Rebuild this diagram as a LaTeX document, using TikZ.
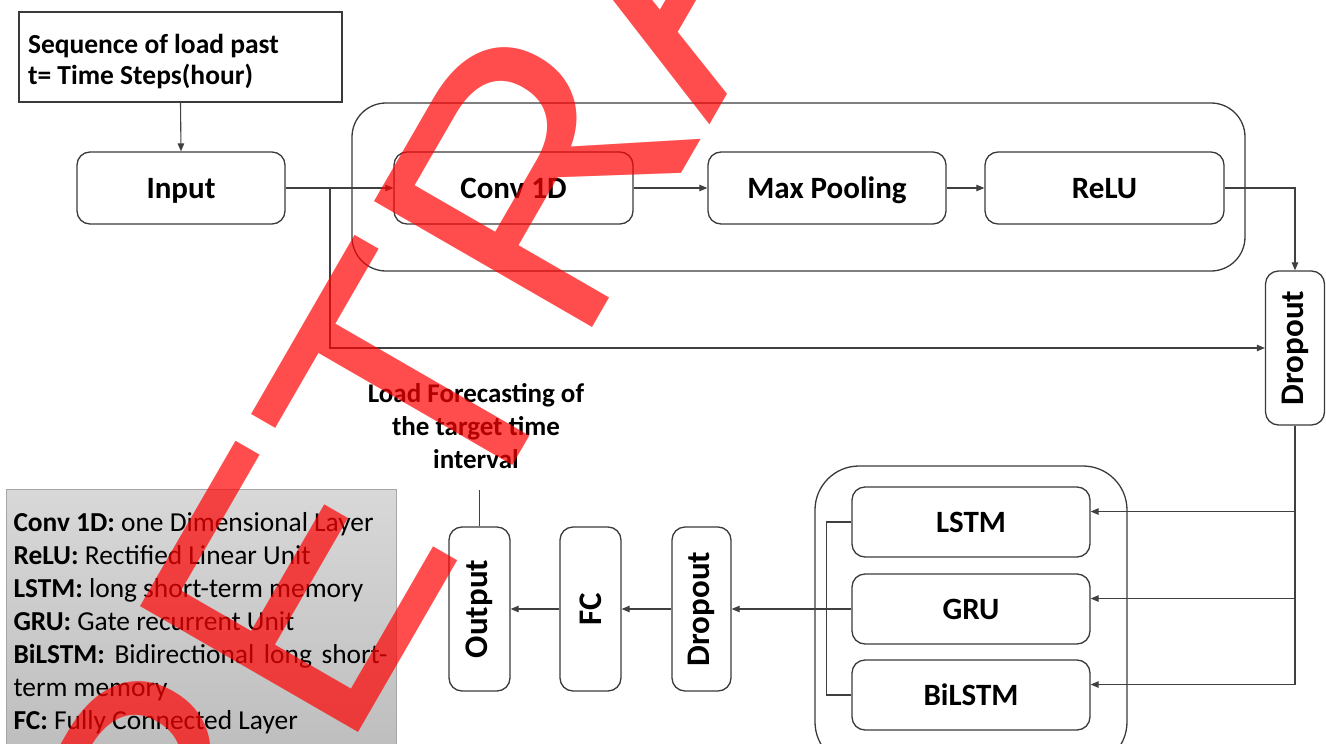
\documentclass[tikz,border=0pt]{standalone}
\usepackage{fontspec}
\setmainfont{Carlito}
\newfontfamily\wmfont{Liberation Sans}
\usepackage{graphicx}
\usetikzlibrary{arrows.meta,positioning,calc}
\definecolor{LineInk}{HTML}{404040}
\definecolor{BoxInk}{HTML}{3A3A3A}
\definecolor{LegTop}{HTML}{D8D8D8}
\definecolor{LegBot}{HTML}{BDBDBD}
\definecolor{LegBord}{HTML}{A6A6A6}
\definecolor{WmRed}{HTML}{FF0000}
\newcommand{\lyrfont}{\fontsize{31pt}{36pt}\selectfont\bfseries}
\newcommand{\vlyrfont}{\fontsize{33pt}{38pt}\selectfont\bfseries}
\newcommand{\seqfont}{\fontsize{27.5pt}{31pt}\selectfont\bfseries}
\newcommand{\fcstfont}{\fontsize{27pt}{33pt}\selectfont\bfseries}
\newcommand{\legfont}{\fontsize{27.4pt}{33pt}\selectfont}
\tikzset{
  every picture/.append style={>=Stealth},
  blk/.style={rectangle, rounded corners=13pt, draw=BoxInk, line width=1.3pt,
              align=center, inner sep=0pt},
  lyr/.style={blk, minimum width=238pt, minimum height=72pt, font=\lyrfont,
              text height=20pt, text depth=0pt},
  vlyr/.style={blk, minimum width=60pt, minimum height=164pt, font=\vlyrfont},
  grp/.style={rectangle, draw=BoxInk, line width=1.3pt, inner sep=0pt},
  flow/.style={-{Triangle[length=8pt,width=6.5pt]}, line width=1.1pt, draw=LineInk},
  link/.style={line width=1.1pt, draw=LineInk},
  wm/.style={font=\wmfont\fontsize{366pt}{366pt}\selectfont, text=WmRed,
             text opacity=0.7, inner sep=0pt},
}

\begin{document}
\begin{tikzpicture}[x=1pt, y=-1pt]
% page = 1326 x 744 px, one px per pt, y running down
\useasboundingbox (0,0) rectangle (1326,744);
\clip (0,0) rectangle (1326,744);

% ======================= input side ==================================
\node[grp, minimum width=323pt, minimum height=90pt, text width=305pt,
      align=flush left, font=\seqfont] (seq) at (180.5,57)
  {\rule{0pt}{28pt}Sequence of load past\\t= Time Steps(hour)};
\node[lyr, minimum width=208pt] (inp) at (181,188) {Input};

% ======================= CNN block ===================================
\node[grp, rounded corners=34pt, minimum width=893pt, minimum height=168pt] (cnn)
  at (798.5,187) {};
\node[lyr, minimum width=239pt] (conv) at (513.5,188) {Conv 1D};
\node[lyr] (pool) at (827,188) {Max Pooling};
\node[lyr, minimum width=239pt] (relu) at (1104.5,188) {ReLU};
\node[vlyr, minimum width=59pt, minimum height=154pt] (dpA) at (1295,348)
  {\rotatebox{90}{Dropout}};

% ======================= recurrent block =============================
\node[grp, rounded corners=44pt, minimum width=312pt, minimum height=300pt] (rnn)
  at (971,616) {};
\node[lyr, minimum height=70pt] (lstm) at (971,522) {LSTM};
\node[lyr, minimum height=70pt] (gru) at (971,609) {GRU};
\node[lyr, minimum height=70pt] (bil) at (971,695) {BiLSTM};

% ======================= output side =================================
\node[vlyr, minimum width=59pt] (dpB) at (701.5,609) {\rotatebox{90}{Dropout}};
\node[vlyr, minimum width=61pt] (fc) at (590.5,609) {\rotatebox{90}{FC}};
\node[vlyr, minimum width=61pt] (outp) at (479.5,609) {\rotatebox{90}{Output}};
\node[align=center, font=\fcstfont, anchor=south, inner xsep=0pt, inner ysep=21pt]
  (fcst) at (476,490) {Load Forecasting of\\the target time\\interval};

% ======================= legend ======================================
\node[rectangle, draw=LegBord, line width=1pt, top color=LegTop, bottom color=LegBot,
      anchor=north west, text width=376pt, inner xsep=7pt, inner ysep=0pt,
      minimum height=268pt, align=flush left, font=\legfont] (leg) at (6,489)
  {\textbf{Conv 1D:} one Dimensional Layer\\
   \textbf{ReLU:} Rectified Linear Unit\\
   \textbf{LSTM:} long short-term memory\\
   \textbf{GRU:} Gate recurrent Unit\\
   \makebox[374pt][s]{\textbf{BiLSTM:} Bidirectional long short-}\\
   term memory\\
   \textbf{FC:} Fully Connected Layer};

% ======================= arrows ======================================
\coordinate (split) at (330,188);
\draw[flow] (seq.south) -- (inp.north);
\draw[flow] (inp.east) -- (conv.west);
\draw[flow] (conv) -- (pool);
\draw[flow] (pool) -- (relu);
\draw[flow] (relu.east) -| (dpA.north);
% skip path round the CNN block
\draw[flow] (split) |- (dpA.west);
% dropout feeds the three recurrent layers
\draw[flow] (dpA.south) |- (lstm.5);
\draw[flow] (dpA.south) |- (gru.5);
\draw[flow] (dpA.south) |- (bil.5);
\draw[link] (lstm.west) -- ++(-25,0) |- (bil.west);
\draw[flow] (gru.west) -- (dpB.east);
\draw[flow] (dpB) -- (fc);
\draw[flow] (fc) -- (outp);
\draw[link] (outp.north) -- (outp.north |- fcst.south);

% ======================= watermark ===================================
\node[wm, rotate=60, anchor=base west] (wmk) at (211,988) {RETRACTED};

\end{tikzpicture}
\end{document}
